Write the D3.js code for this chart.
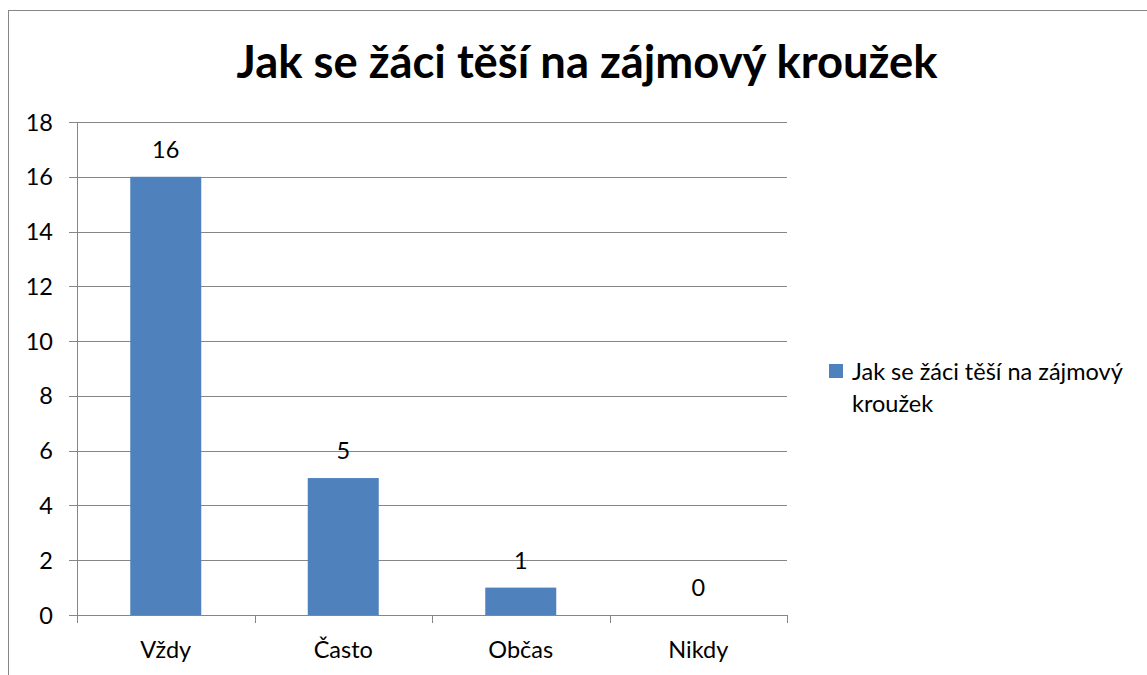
<!DOCTYPE html>
<html><head><meta charset="utf-8">
<script src="https://cdn.jsdelivr.net/npm/d3@7"></script>
<style>body{margin:0;background:#fff}svg{display:block}text{font-family:Lato,"Open Sans",sans-serif}</style>
</head><body>
<script>
const categories = ["Vždy","Často","Občas","Nikdy"];
const values = [16,5,1,0];
const yTicks = [0,2,4,6,8,10,12,14,16,18];
const title = "Jak se žáci těší na zájmový kroužek";
const seriesName = ["Jak se žáci těší na zájmový","kroužek"];

(function(){
const W=1147,H=675,FS=23.5;
const svg=d3.select("body").append("svg").attr("width",W).attr("height",H);
svg.append("rect").attr("x",8.5).attr("y",10.5).attr("width",1160).attr("height",700)
  .attr("fill","#fff").attr("stroke","#868686").attr("stroke-width",1);

const pl=77,pr=787,pt=122,pb=615;
const x=d3.scaleBand().domain(categories).range([pl,pr]).paddingInner(0.6).paddingOuter(0.3);
const xc=d3.scaleBand().domain(categories).range([pl,pr]);
const y=d3.scaleLinear().domain([0,18]).range([pb,pt]);

svg.append("g").selectAll("line").data(yTicks).join("line")
  .attr("x1",69).attr("x2",pr).attr("y1",d=>Math.round(y(d))+0.5).attr("y2",d=>Math.round(y(d))+0.5)
  .attr("stroke","#868686").attr("stroke-width",1);
svg.append("line").attr("x1",pl+0.5).attr("x2",pl+0.5).attr("y1",pt).attr("y2",pb+8)
  .attr("stroke","#868686");
const bounds=categories.map(c=>xc(c)).concat([pr]);
svg.append("g").selectAll("line").data(bounds).join("line")
  .attr("x1",d=>Math.round(d)+0.5).attr("x2",d=>Math.round(d)+0.5).attr("y1",pb).attr("y2",pb+8)
  .attr("stroke","#868686");
svg.append("g").selectAll("text").data(yTicks).join("text")
  .attr("x",53).attr("y",d=>y(d)+8.5).attr("text-anchor","end")
  .attr("font-size",FS).attr("fill","#000").text(d=>d);
svg.append("g").selectAll("rect").data(values).join("rect")
  .attr("x",(d,i)=>x(categories[i])).attr("width",x.bandwidth())
  .attr("y",d=>y(d)).attr("height",d=>pb-y(d)).attr("fill","#4F81BD");
svg.append("g").selectAll("text").data(values).join("text")
  .attr("x",(d,i)=>x(categories[i])+x.bandwidth()/2).attr("y",d=>y(d)-19)
  .attr("text-anchor","middle").attr("font-size",FS).text(d=>d);
svg.append("g").selectAll("text").data(categories).join("text")
  .attr("x",d=>xc(d)+xc.bandwidth()/2).attr("y",658)
  .attr("text-anchor","middle").attr("font-size",FS).text(d=>d);
const t=svg.append("text").attr("x",587).attr("y",78).attr("text-anchor","middle")
  .attr("font-size",36).attr("font-weight","bold").text(title);
const tw=t.node().getComputedTextLength();
t.attr("font-size",36*701/tw);
svg.append("rect").attr("x",829).attr("y",364).attr("width",14).attr("height",14).attr("fill","#4F81BD");
svg.append("g").selectAll("text").data(seriesName).join("text")
  .attr("x",852).attr("y",(d,i)=>380+i*32).attr("font-size",FS).text(d=>d);
})();
</script>
</body></html>
